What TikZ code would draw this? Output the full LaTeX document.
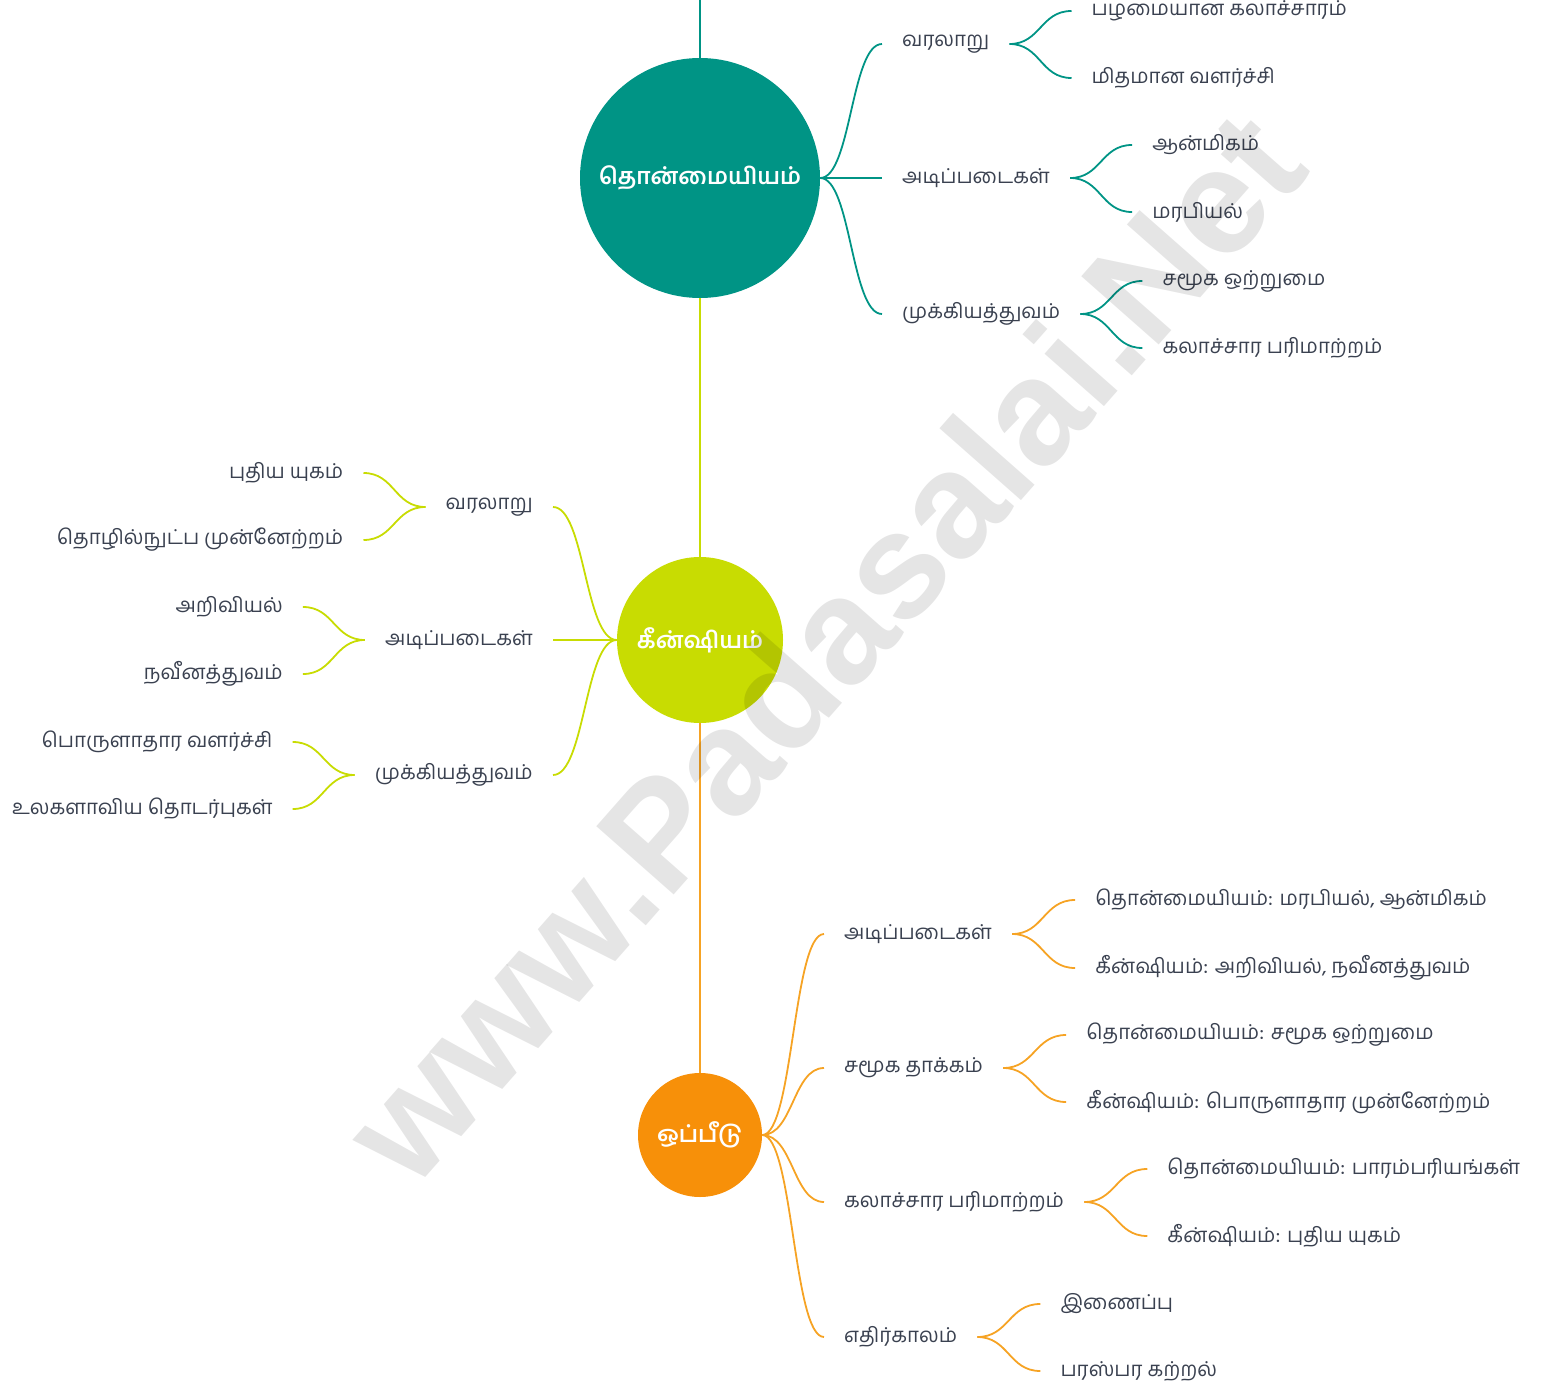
\documentclass[tikz,border=0pt]{standalone}
\usepackage{fontspec}
\setmainfont[Script=Tamil]{Hind Madurai}
\newfontfamily\wmfont{Liberation Sans}
\usetikzlibrary{calc}
\definecolor{cteal}{HTML}{009485}
\definecolor{clime}{HTML}{C8DC02}
\definecolor{corange}{HTML}{F79009}
\definecolor{cline}{HTML}{F6A324}
\definecolor{ctext}{HTML}{3A4150}
\newcommand\mmlink[3]{\draw[#1] let \p1=(#2), \p2=(#3) in (\p1) .. controls ({(\x1+\x2)/2},\y1) and ({(\x1+\x2)/2},\y2) .. (\p2);}
\tikzset{
  circ/.style={circle, inner sep=0pt, text=white, font=\bfseries\fontsize{23}{26}\selectfont},
  lbl/.style={text=ctext, font=\fontsize{20.5}{24}\selectfont, inner xsep=20pt, inner ysep=2pt},
  ln/.style={line width=1.8pt},
}
\begin{document}
\begin{tikzpicture}[x=1pt,y=-1pt]
\useasboundingbox (0,0) rectangle (1543,1389);
% circles
\node[circ, fill=cteal, minimum size=240pt] (c1) at (700,178) {தொன்மையியம்};
\node[circ, fill=clime, minimum size=166pt] (c2) at (700,640) {கீன்ஷியம்};
\node[circ, fill=corange, minimum size=124pt] (c3) at (700,1135) {ஒப்பீடு};
\coordinate (top) at (700,0);
\draw[ln, cteal] (top) -- (c1.north);
\draw[ln, clime] (c1.south) -- (c2.north);
\draw[ln, cline] (c2.south) -- (c3.north);

% --- circle 1 branches
\node[lbl, anchor=west] (a1) at (882,44) {வரலாறு};
\node[lbl, anchor=west] (a2) at (882,178) {அடிப்படைகள்};
\node[lbl, anchor=west] (a3) at (882,314) {முக்கியத்துவம்};
\mmlink{ln,cteal}{c1.east}{a1.west}
\draw[ln,cteal] (c1.east) -- (a2.west);
\mmlink{ln,cteal}{c1.east}{a3.west}
\node[lbl, anchor=west] (a1a) at ($(a1.east)+(62,-33)$) {பழமையான கலாச்சாரம்};
\node[lbl, anchor=west] (a1b) at ($(a1.east)+(62,34)$) {மிதமான வளர்ச்சி};
\node[lbl, anchor=west] (a2a) at ($(a2.east)+(62,-33)$) {ஆன்மிகம்};
\node[lbl, anchor=west] (a2b) at ($(a2.east)+(62,34)$) {மரபியல்};
\node[lbl, anchor=west] (a3a) at ($(a3.east)+(62,-33)$) {சமூக ஒற்றுமை};
\node[lbl, anchor=west] (a3b) at ($(a3.east)+(62,34)$) {கலாச்சார பரிமாற்றம்};
\mmlink{ln,cteal}{a1.east}{a1a.west}
\mmlink{ln,cteal}{a1.east}{a1b.west}
\mmlink{ln,cteal}{a2.east}{a2a.west}
\mmlink{ln,cteal}{a2.east}{a2b.west}
\mmlink{ln,cteal}{a3.east}{a3a.west}
\mmlink{ln,cteal}{a3.east}{a3b.west}

% --- circle 2 branches
\node[lbl, anchor=east] (b1) at (553,507) {வரலாறு};
\node[lbl, anchor=east] (b2) at (553,640) {அடிப்படைகள்};
\node[lbl, anchor=east] (b3) at (553,775) {முக்கியத்துவம்};
\mmlink{ln,clime}{c2.west}{b1.east}
\draw[ln,clime] (c2.west) -- (b2.east);
\mmlink{ln,clime}{c2.west}{b3.east}
\node[lbl, anchor=east] (b1a) at ($(b1.west)+(-62,-34)$) {புதிய யுகம்};
\node[lbl, anchor=east] (b1b) at ($(b1.west)+(-62,33)$) {தொழில்நுட்ப முன்னேற்றம்};
\node[lbl, anchor=east] (b2a) at ($(b2.west)+(-62,-33)$) {அறிவியல்};
\node[lbl, anchor=east] (b2b) at ($(b2.west)+(-62,34)$) {நவீனத்துவம்};
\node[lbl, anchor=east] (b3a) at ($(b3.west)+(-62,-33)$) {பொருளாதார வளர்ச்சி};
\node[lbl, anchor=east] (b3b) at ($(b3.west)+(-62,34)$) {உலகளாவிய தொடர்புகள்};
\mmlink{ln,clime}{b1.west}{b1a.east}
\mmlink{ln,clime}{b1.west}{b1b.east}
\mmlink{ln,clime}{b2.west}{b2a.east}
\mmlink{ln,clime}{b2.west}{b2b.east}
\mmlink{ln,clime}{b3.west}{b3a.east}
\mmlink{ln,clime}{b3.west}{b3b.east}

% --- circle 3 branches
\node[lbl, anchor=west] (d1) at (824,934) {அடிப்படைகள்};
\node[lbl, anchor=west] (d2) at (824,1068) {சமூக தாக்கம்};
\node[lbl, anchor=west] (d3) at (824,1202) {கலாச்சார பரிமாற்றம்};
\node[lbl, anchor=west] (d4) at (824,1337) {எதிர்காலம்};
\mmlink{ln,cline}{c3.east}{d1.west}
\mmlink{ln,cline}{c3.east}{d2.west}
\mmlink{ln,cline}{c3.east}{d3.west}
\mmlink{ln,cline}{c3.east}{d4.west}
\node[lbl, anchor=west] (d1a) at ($(d1.east)+(63,-34)$) {தொன்மையியம்: மரபியல், ஆன்மிகம்};
\node[lbl, anchor=west] (d1b) at ($(d1.east)+(63,34)$) {கீன்ஷியம்: அறிவியல், நவீனத்துவம்};
\node[lbl, anchor=west] (d2a) at ($(d2.east)+(63,-33)$) {தொன்மையியம்: சமூக ஒற்றுமை};
\node[lbl, anchor=west] (d2b) at ($(d2.east)+(63,34)$) {கீன்ஷியம்: பொருளாதார முன்னேற்றம்};
\node[lbl, anchor=west] (d3a) at ($(d3.east)+(63,-33)$) {தொன்மையியம்: பாரம்பரியங்கள்};
\node[lbl, anchor=west] (d3b) at ($(d3.east)+(63,34)$) {கீன்ஷியம்: புதிய யுகம்};
\node[lbl, anchor=west] (d4a) at ($(d4.east)+(63,-33)$) {இணைப்பு};
\node[lbl, anchor=west] (d4b) at ($(d4.east)+(63,34)$) {பரஸ்பர கற்றல்};
\mmlink{ln,cline}{d1.east}{d1a.west}
\mmlink{ln,cline}{d1.east}{d1b.west}
\mmlink{ln,cline}{d2.east}{d2a.west}
\mmlink{ln,cline}{d2.east}{d2b.west}
\mmlink{ln,cline}{d3.east}{d3a.west}
\mmlink{ln,cline}{d3.east}{d3b.west}
\mmlink{ln,cline}{d4.east}{d4a.west}
\mmlink{ln,cline}{d4.east}{d4b.west}

% watermark
\node[rotate=48.6, font=\wmfont\bfseries\fontsize{150}{150}\selectfont, text=black, opacity=0.1] (wm) at (822,646) {www.Padasalai.Net};
\end{tikzpicture}
\end{document}
